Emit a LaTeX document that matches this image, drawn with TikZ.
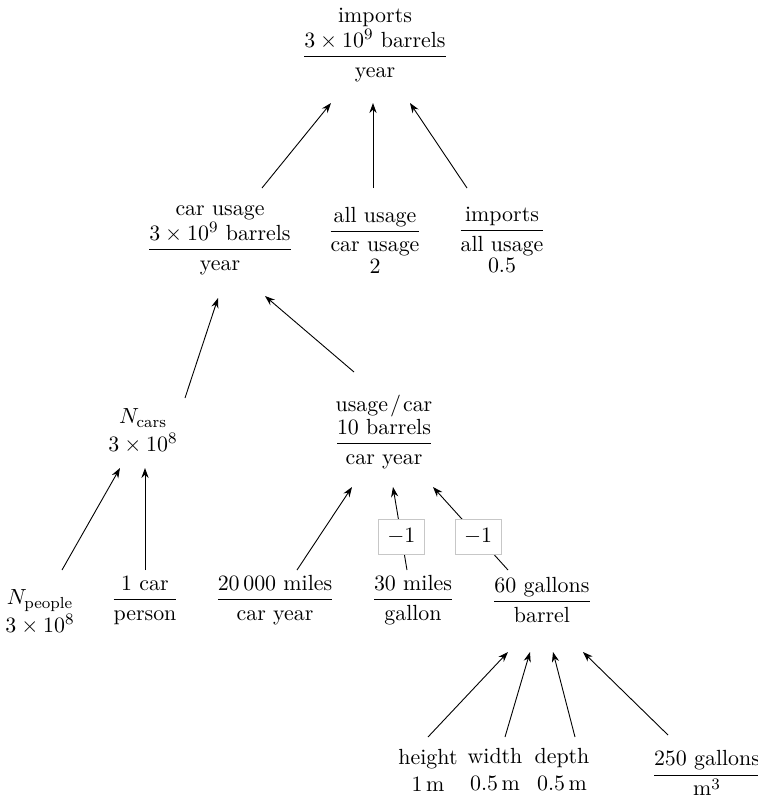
\documentclass[tikz,border=0pt,11pt]{standalone}
\usepackage{amsmath}
\usetikzlibrary{arrows.meta,calc}
\begin{document}
\begin{tikzpicture}[x=0.5pt,y=-0.5pt,
  lbl/.style={align=center,inner sep=0pt},
  arr/.style={-{Stealth[length=5pt,width=3.6pt]},line width=0.45pt},
  neg/.style={draw=black!22,fill=white,line width=0.5pt,minimum width=23pt,minimum height=17.5pt,inner sep=0pt}]
\useasboundingbox (0,0) rectangle (758,800);
% nodes
\node[lbl] (T)  at (375,45)  {imports\\$\dfrac{3\times10^9\text{ barrels}}{\text{year}}$};
\node[lbl] (CU) at (220,240) {car usage\\$\dfrac{3\times10^9\text{ barrels}}{\text{year}}$};
\node[lbl] (AU) at (375,240) {$\dfrac{\text{all usage}}{\text{car usage}}$\\2};
\node[lbl] (IA) at (502,240) {$\dfrac{\text{imports}}{\text{all usage}}$\\0.5};
\node[lbl] (NC) at (143,431) {$N_{\text{cars}}$\\$3\times10^8$};
\node[lbl] (UC) at (384,432) {usage\kern1pt/\kern1pt car\\$\dfrac{\text{10 barrels}}{\text{car year}}$};
\node[lbl] (NP) at (40,612)  {$N_{\text{people}}$\\$3\times10^8$};
\node[lbl] (OC) at (145,600) {$\dfrac{\text{1 car}}{\text{person}}$};
\node[lbl] (MI) at (275,600) {$\dfrac{\text{20\,000 miles}}{\text{car year}}$};
\node[lbl] (TM) at (413,600) {$\dfrac{\text{30 miles}}{\text{gallon}}$};
\node[lbl] (SG) at (542,600) {$\dfrac{\text{60 gallons}}{\text{barrel}}$};
\node[lbl] (HT) at (428,770) {height\\1\,m};
\node[lbl] (WD) at (495,770) {width\\0.5\,m};
\node[lbl] (DP) at (562,770) {depth\\0.5\,m};
\node[lbl] (GM) at (707,773) {$\dfrac{\text{250 gallons}}{\text{m}^3}$};
% connectors
\draw[arr] ($(CU)+(42,-52)$) -- ($(T)+(-44,58)$);
\draw[arr] ($(AU)+(-2,-52)$) -- ($(T)+(-2,58)$);
\draw[arr] ($(IA)+(-35,-52)$) -- ($(T)+(35,58)$);
\draw[arr] ($(NC)+(42,-33)$) -- ($(CU)+(-2,58)$);
\draw[arr] ($(UC)+(-30,-60)$) -- ($(CU)+(45,56)$);
\draw[arr] ($(NP)+(22,-42)$) -- ($(NC)+(-23,37)$);
\draw[arr] ($(OC)+(0,-30)$) -- ($(NC)+(2,37)$);
\draw[arr] ($(MI)+(22,-30)$) -- ($(UC)+(-32,55)$);
\draw[arr] ($(TM)+(-6,-30)$) -- node[neg,pos=0.4] (N1) {$-1$} ($(UC)+(9,55)$);
\draw[arr] ($(SG)+(-34,-30)$) -- node[neg,pos=0.4] (N2) {$-1$} ($(UC)+(49,55)$);
\draw[arr] ($(HT)+(0,-33)$) -- ($(SG)+(-34,52)$);
\draw[arr] ($(WD)+(10,-33)$) -- ($(SG)+(-12,52)$);
\draw[arr] ($(DP)+(13,-33)$) -- ($(SG)+(11,52)$);
\draw[arr] ($(GM)+(-39,-38)$) -- ($(SG)+(41,52)$);
\end{tikzpicture}
\end{document}
